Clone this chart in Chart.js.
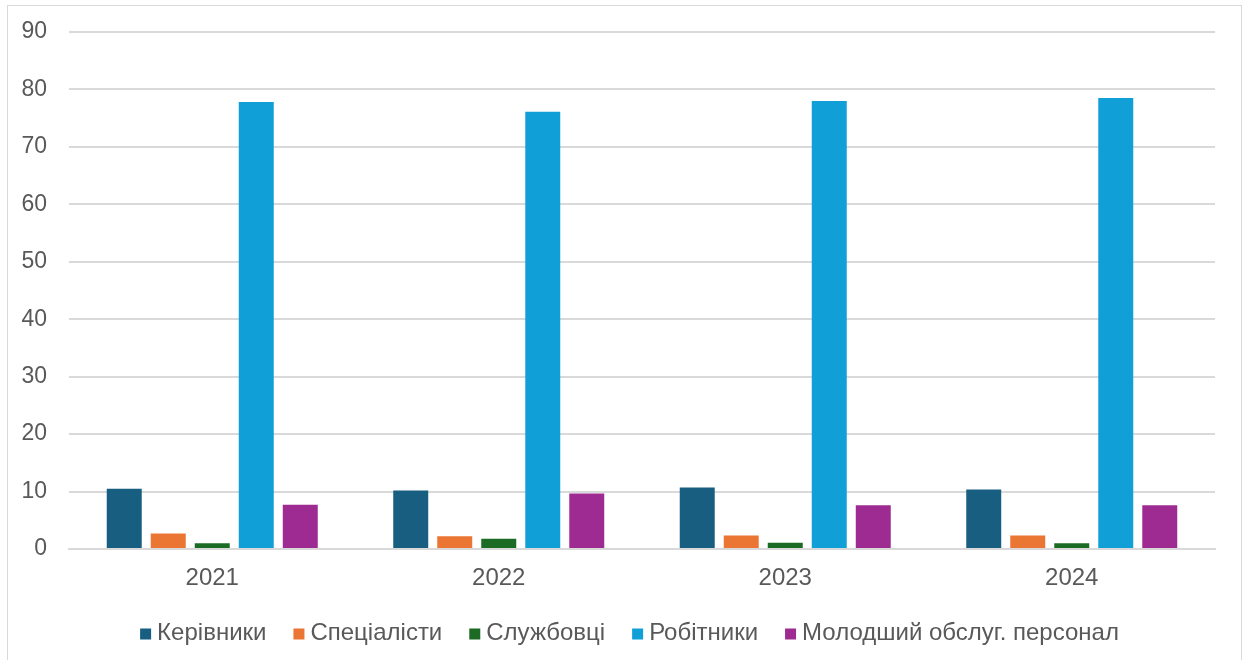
<!DOCTYPE html>
<html lang="uk">
<head>
<meta charset="utf-8">
<title>Структура персоналу</title>
<script src="https://cdn.jsdelivr.net/npm/chart.js@4/dist/chart.umd.min.js"></script>
<style>
  html, body { margin: 0; padding: 0; background: #ffffff; }
  body { width: 1247px; height: 660px; position: relative; overflow: hidden; }
  #frame {
    position: absolute; left: 7px; top: 5px; width: 1235px; height: 700px;
    border: 1.5px solid #d9d9d9; box-sizing: border-box;
  }
  #wrap { position: absolute; left: 0; top: 0; width: 1247px; height: 660px; }
</style>
</head>
<body>
<div id="frame"></div>
<div id="wrap"><canvas id="chart" width="1247" height="660"></canvas></div>
<script>
// Роки
const years = ['2021', '2022', '2023', '2024'];

// Частка кожної категорії персоналу, %
const kerivnyky   = [10.5, 10.2, 10.7, 10.35];
const spetsialisty = [2.7, 2.2, 2.35, 2.35];
const sluzhbovtsi = [1.0, 1.8, 1.1, 1.0];
const robitnyky   = [77.8, 76.1, 78.0, 78.5];
const molodshyi   = [7.7, 9.65, 7.6, 7.6];

// Поділки осі Y
const yTicks = [0, 10, 20, 30, 40, 50, 60, 70, 80, 90];

const seriesNames = ['Керівники', 'Спеціалісти', 'Службовці', 'Робітники', 'Молодший обслуг. персонал'];
const seriesColors = ['#175e80', '#eb7533', '#1c6b24', '#119fd7', '#9e2b92'];
const seriesValues = [kerivnyky, spetsialisty, sluzhbovtsi, robitnyky, molodshyi];

const textColor = '#595959';
const gridColor = '#d9d9d9';
const fontFamily = '"Liberation Sans", Arial, sans-serif';

// Легенда під графіком: квадратні маркери й підписи серій в один рядок
const bottomLegend = {
  id: 'bottomLegend',
  afterDraw(chart, args, opts) {
    const ctx = chart.ctx;
    const items = chart.data.datasets;
    ctx.save();
    ctx.font = `${opts.fontSize}px ${fontFamily}`;
    ctx.textBaseline = 'middle';
    ctx.textAlign = 'left';
    const widths = items.map(ds => opts.box + opts.boxGap + ctx.measureText(ds.label).width);
    const total = widths.reduce((a, b) => a + b, 0) + opts.itemGap * (items.length - 1);
    let x = opts.centerX - total / 2;
    items.forEach((ds, i) => {
      ctx.fillStyle = ds.backgroundColor;
      ctx.fillRect(x, opts.y - opts.box / 2 + 1, opts.box, opts.box);
      ctx.fillStyle = textColor;
      ctx.fillText(ds.label, x + opts.box + opts.boxGap, opts.y);
      x += widths[i] + opts.itemGap;
    });
    ctx.restore();
  }
};

new Chart(document.getElementById('chart'), {
  type: 'bar',
  data: {
    labels: years,
    datasets: seriesNames.map((name, i) => ({
      label: name,
      data: seriesValues[i],
      backgroundColor: seriesColors[i],
      borderWidth: 0,
      categoryPercentage: 0.768,
      barPercentage: 0.795
    }))
  },
  plugins: [bottomLegend],
  options: {
    responsive: false,
    animation: false,
    layout: { padding: { left: 0, right: 32, top: 0, bottom: 53 } },
    plugins: {
      tooltip: { enabled: false },
      legend: { display: false },
      bottomLegend: { fontSize: 24, box: 11, boxGap: 6, itemGap: 27, centerX: 629.5, y: 633 }
    },
    scales: {
      x: {
        grid: { display: false, drawTicks: false },
        border: { color: gridColor, width: 2 },
        ticks: {
          color: textColor,
          font: { family: fontFamily, size: 24 },
          padding: 14.6
        }
      },
      y: {
        min: 0,
        max: 90,
        afterFit(scale) {
          scale.width = 69;
          scale.paddingTop = 32;
          scale.paddingBottom = 0;
        },
        afterBuildTicks(scale) { scale.ticks = yTicks.map(v => ({ value: v })); },
        grid: { color: gridColor, lineWidth: 2, drawTicks: false },
        border: { display: false },
        ticks: {
          color: textColor,
          font: { family: fontFamily, size: 23 },
          padding: 22
        }
      }
    }
  }
});
</script>
</body>
</html>
